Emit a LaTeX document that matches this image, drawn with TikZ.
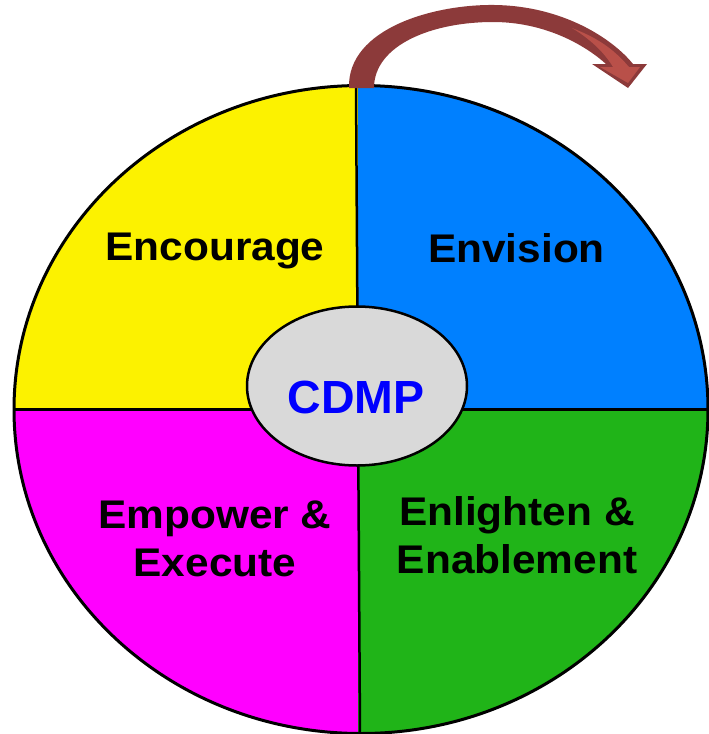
\documentclass[tikz,border=0pt]{standalone}
\usepackage{fontspec}
\setmainfont{Liberation Sans}
\usetikzlibrary{shapes.geometric}
\definecolor{qyellow}{RGB}{252,242,0}
\definecolor{qblue}{RGB}{0,128,255}
\definecolor{qgreen}{RGB}{32,180,24}
\definecolor{qmag}{RGB}{255,0,255}
\definecolor{cgray}{RGB}{217,217,217}
\definecolor{arrdark}{RGB}{140,58,58}
\definecolor{arrlight}{RGB}{185,80,73}
\begin{document}
\begin{tikzpicture}[x=1pt,y=-1pt,
  qlabel/.style={align=center,inner sep=0pt,anchor=base,
    font=\fontsize{40}{48}\selectfont\bfseries},
  divider/.style={line width=2.5pt,black}]
\useasboundingbox (0,0) rectangle (709,734);
% quadrants
\begin{scope}
  \clip (361,409.5) ellipse [x radius=347, y radius=324];
  \fill[qyellow] (0,0) rectangle (358,409.5);
  \fill[qblue] (358,0) rectangle (720,409.5);
  \fill[qmag] (0,409.5) rectangle (358,740);
  \fill[qgreen] (358,409.5) rectangle (720,740);
\end{scope}
\coordinate (vt) at (356,85);
\coordinate (vb) at (360,734);
\coordinate (hl) at (14,409.5);
\coordinate (hr) at (708,409.5);
\draw[divider] (vt) -- (vb);
\draw[divider] (hl) -- (hr);
\draw[line width=3pt] (361,409.5) ellipse [x radius=347, y radius=324];
% curved arrow
\fill[arrdark] (349,88) .. controls (347,28) and (435,4) .. (495,5)
  .. controls (562,6) and (612,38) .. (633,64)
  -- (647,64) -- (628,88) -- (592,64) -- (606,64)
  .. controls (585,45) and (545,22) .. (493,22)
  .. controls (432,22) and (374,45) .. (374,88) -- cycle;
\fill[arrlight] (600,67) -- (628,83) -- (640,67) -- (629,67)
  .. controls (612,47) and (595,37) .. (572,28)
  .. controls (590,39) and (604,52) .. (613,67) -- cycle;
% centre
\node[ellipse,draw,line width=2.5pt,fill=cgray,minimum width=220pt,minimum height=159pt,inner sep=0pt]
  (c) at (357,386) {};
\node[font=\fontsize{46.5}{50}\selectfont\bfseries,text=blue,anchor=base,inner sep=0pt]
  (cl) at (356,413) {CDMP};
% labels
\node[qlabel] (enc) at (215,260) {\scalebox{1.06}[1]{Encourage}};
\node[qlabel] (env) at (516.5,262) {\scalebox{1.06}[1]{Envision}};
\node[qlabel] (emp) at (215,576) {\scalebox{1.06}[1]{Empower \&}\\\scalebox{1.06}[1]{Execute}};
\node[qlabel] (enl) at (517,573) {\scalebox{1.06}[1]{Enlighten \&}\\\scalebox{1.06}[1]{Enablement}};
\end{tikzpicture}
\end{document}
